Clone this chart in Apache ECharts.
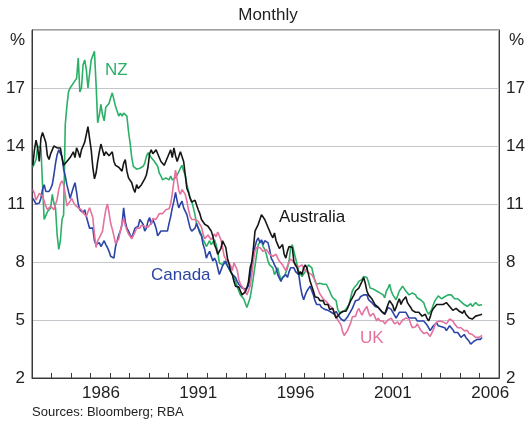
<!DOCTYPE html>
<html>
<head>
<meta charset="utf-8">
<title>Bond yields</title>
<script src="https://cdn.jsdelivr.net/npm/echarts@6/dist/echarts.min.js"></script>
<style>
    html, body { margin: 0; padding: 0; background: #fff; }
    #chart { width: 528px; height: 421px; }
</style>
</head>
<body>
<div id="chart"></div>
<script type="text/javascript">
    // monthly yields, Jan 1983 - Feb 2006
    var australia = [
        13.0, 13.8, 14.3, 13.9, 13.2, 14.4, 14.7, 14.6, 14.2, 13.5, 13.3, 13.6,
        13.8, 14.0, 14.0, 13.9, 14.0, 13.9, 13.4, 13.0, 13.0, 13.2, 13.3, 13.4,
        13.5, 13.7, 13.4, 13.9, 13.7, 13.4, 13.8, 14.0, 14.2, 14.6, 15.0, 14.4,
        13.8, 12.9, 12.3, 12.6, 13.2, 13.7, 14.1, 13.8, 13.5, 13.7, 13.6, 13.5,
        13.5, 13.7, 13.2, 13.0, 13.0, 12.9, 12.8, 12.7, 13.1, 13.3, 12.7, 12.35,
        12.3, 12.1, 11.8, 11.6, 12.0, 11.8, 11.9, 12.0, 12.0, 12.3, 12.5, 12.9,
        13.6, 13.8, 13.6, 13.7, 13.8, 13.6, 13.5, 13.2, 13.3, 13.0, 13.2, 13.3,
        13.6, 13.8, 13.4, 13.9, 13.5, 13.2, 13.3, 13.7, 13.6, 13.2, 12.5, 11.8,
        11.6, 11.3, 11.1, 11.0, 11.2, 11.1, 10.7, 10.5, 10.2, 10.1, 9.95, 10.0,
        9.85, 9.8, 9.6, 9.35, 8.9, 8.7, 8.4, 8.55, 8.7, 9.1, 9.0, 8.75,
        8.2, 7.9, 7.5, 7.35, 7.0, 6.75, 6.65, 6.7, 6.5, 6.3, 6.3, 6.45,
        6.65, 7.0, 7.7, 8.0, 8.7, 9.6, 9.7, 9.95, 10.2, 10.45, 10.4, 10.2,
        10.1, 9.8, 9.8, 9.4, 9.25, 9.5, 9.1, 8.9, 8.7, 8.65, 8.9, 8.4,
        8.2, 8.55, 8.8, 8.9, 8.75, 8.0, 7.9, 7.7, 7.35, 7.5, 7.35, 7.7,
        7.85, 7.7, 7.35, 7.0, 6.75, 6.5, 6.2, 6.3, 6.15, 6.0, 5.9, 6.0,
        5.8, 5.7, 5.8, 5.55, 5.6, 5.6, 5.3, 5.1, 5.2, 5.3, 5.35, 5.45,
        5.4, 5.45, 5.6, 5.8, 6.0, 6.15, 6.3, 6.5, 6.5, 6.65, 6.75, 7.0,
        7.2, 6.9, 6.5, 6.3, 6.25, 6.1, 6.0, 5.8, 5.9, 5.65, 5.55, 5.45,
        5.4, 5.3, 5.55, 5.8, 6.0, 5.9, 5.75, 5.45, 5.65, 5.9, 6.1, 5.8,
        6.0, 6.1, 6.2, 5.9, 5.8, 5.65, 5.5, 5.6, 5.4, 5.3, 5.4, 5.3,
        5.2, 5.1, 5.3, 5.1, 4.95, 5.15, 5.45, 5.6, 5.7, 5.8, 5.7, 5.8,
        5.9, 5.8, 5.7, 5.9, 5.8, 5.7, 5.6, 5.5, 5.5, 5.6, 5.5, 5.45,
        5.4, 5.35, 5.5, 5.3, 5.2, 5.1, 5.15, 5.05, 5.0, 5.2, 5.3, 5.25,
        5.35, 5.3
    ];
    var nz = [
        12.9, 12.8, 13.3, 14.0, 14.0, 13.9, 12.0, 10.2, 10.4, 10.6, 10.5, 10.8,
        11.5, 11.05, 10.8, 9.4, 8.65, 9.1, 10.2, 10.45, 15.1, 16.05, 16.8, 17.0,
        17.1, 17.25, 17.35, 17.5, 18.55, 16.8, 17.0, 18.2, 18.45, 17.95, 17.0, 17.0,
        18.45, 18.45, 18.9, 17.2, 15.2, 15.6, 16.15, 15.6, 15.3, 16.0, 16.05, 16.2,
        16.5, 16.75, 16.4, 16.05, 15.8, 15.55, 15.7, 15.55, 15.7, 15.6, 15.55, 14.75,
        14.15, 13.4, 12.95, 12.85, 12.8, 12.85, 12.85, 12.85, 12.95, 13.1, 13.45, 13.65,
        13.55, 13.4, 13.3, 13.2, 13.3, 12.95, 12.6, 12.45, 12.25, 12.25, 12.35, 12.25,
        12.25, 12.45, 12.25, 12.2, 12.35, 12.5, 12.6, 12.85, 13.0, 12.7, 12.5, 12.0,
        11.65, 11.3, 11.15, 10.8, 10.45, 9.95, 9.85, 9.6, 9.4, 9.15, 9.0, 8.8,
        8.9, 9.1, 8.9, 9.0, 9.15, 8.9, 8.55, 7.95, 8.05, 7.85, 8.05, 7.95,
        7.8, 7.7, 7.5, 7.45, 7.25, 7.0, 6.75, 6.5, 6.3, 6.25, 6.1, 6.0,
        5.65, 5.65, 6.15, 6.65, 7.2, 7.8, 8.4, 8.9, 9.0, 9.1, 8.8, 8.65,
        8.4, 8.05, 7.85, 7.95, 7.7, 7.35, 7.4, 7.7, 7.35, 7.1, 7.0, 7.25,
        7.45, 7.7, 8.05, 8.75, 8.9, 8.8, 8.2, 7.85, 7.5, 7.45, 7.25, 7.35,
        7.5, 7.7, 7.85, 7.95, 7.7, 7.35, 7.0, 6.85, 6.75, 6.9, 7.0, 6.85,
        6.9, 6.85, 6.75, 6.5, 6.3, 6.15, 6.05, 6.0, 5.55, 5.4, 5.3, 5.4,
        5.45, 5.55, 5.65, 5.8, 6.15, 6.5, 6.65, 6.75, 6.85, 7.0, 6.95, 7.1,
        7.25, 7.35, 7.2, 6.95, 6.65, 6.75, 6.6, 6.65, 6.5, 6.6, 6.4, 6.5,
        6.3, 6.15, 6.5, 6.65, 6.85, 6.5, 6.3, 6.25, 6.05, 6.15, 6.5, 6.6,
        6.75, 6.65, 6.5, 6.6, 6.3, 6.25, 6.4, 6.5, 6.3, 6.15, 6.25, 6.05,
        6.0, 5.9, 5.65, 5.45, 5.3, 5.4, 5.55, 5.8, 6.0, 6.05, 6.25, 6.15,
        6.1, 6.05, 6.2, 6.1, 6.3, 6.35, 6.3, 6.2, 6.1, 6.2, 6.1, 6.05,
        5.95, 5.85, 5.8, 5.85, 5.7, 5.75, 5.85, 5.7, 5.75, 5.9, 5.85, 5.75,
        5.85, 5.8
    ];
    var canada = [
        11.3, 11.25, 11.0, 10.9, 11.05, 11.3, 11.75, 12.0, 11.65, 11.65, 11.65, 11.8,
        12.0, 12.5, 13.1, 13.55, 13.8, 13.85, 13.45, 12.8, 12.45, 12.0, 11.65, 11.3,
        11.25, 11.85, 12.1, 11.6, 11.0, 10.7, 10.6, 10.55, 10.7, 10.35, 10.3, 9.75,
        9.7, 9.75, 9.1, 8.9, 9.0, 9.0, 8.8, 8.9, 9.1, 8.9, 8.75, 8.55,
        8.3, 8.2, 8.2, 8.8, 9.1, 9.4, 9.6, 9.95, 10.8, 10.1, 9.75, 9.6,
        9.4, 9.25, 9.3, 9.75, 9.65, 9.85, 10.2, 10.25, 9.95, 9.6, 9.75, 10.1,
        10.3, 9.95, 10.2, 10.0, 9.75, 9.35, 9.25, 9.6, 9.65, 9.6, 9.65, 9.6,
        10.0, 10.35, 10.8, 11.15, 11.6, 11.15, 10.8, 11.0, 11.15, 10.8, 10.7, 10.45,
        10.1, 9.75, 9.6, 9.7, 9.75, 10.0, 9.75, 9.5, 9.35, 8.9, 8.65, 8.2,
        8.4, 8.55, 8.3, 8.05, 8.2, 8.05, 7.7, 7.35, 7.45, 7.8, 7.85, 8.05,
        7.8, 7.7, 7.5, 7.35, 7.25, 7.2, 7.0, 6.85, 6.75, 6.65, 6.75, 6.6,
        6.5, 6.75, 7.25, 7.85, 8.4, 8.8, 9.1, 9.25, 9.0, 9.15, 8.9, 9.1,
        9.15, 9.0, 8.65, 8.2, 8.05, 7.85, 7.7, 7.35, 7.25, 7.0, 7.2, 7.25,
        7.35, 7.2, 7.5, 7.7, 7.8, 7.7, 7.5, 7.6, 7.35, 6.75, 6.3, 6.05,
        6.3, 6.5, 6.6, 6.75, 6.65, 6.3, 6.0, 5.8, 5.7, 5.8, 5.65, 5.55,
        5.55, 5.45, 5.5, 5.45, 5.4, 5.3, 5.3, 5.45, 5.3, 5.2, 5.05, 4.95,
        4.95, 5.0, 5.15, 5.3, 5.45, 5.6, 5.8, 6.0, 6.0, 6.05, 6.2, 6.25,
        6.3, 6.4, 6.3, 6.05, 6.0, 5.9, 5.8, 5.7, 5.8, 5.65, 5.55, 5.45,
        5.4, 5.3, 5.45, 5.65, 5.7, 5.55, 5.4, 5.3, 5.1, 5.2, 5.4, 5.45,
        5.4, 5.3, 5.4, 5.3, 5.1, 5.05, 5.1, 5.2, 5.1, 4.95, 5.05, 4.95,
        4.85, 4.95, 4.95, 4.75, 4.6, 4.45, 4.5, 4.7, 4.75, 4.85, 4.7, 4.6,
        4.65, 4.75, 4.6, 4.45, 4.5, 4.7, 4.6, 4.5, 4.35, 4.25, 4.35, 4.25,
        4.1, 4.15, 4.25, 4.1, 4.0, 3.9, 3.75, 3.8, 3.9, 3.8, 4.0, 4.05,
        4.0, 4.1
    ];
    var uk = [
        11.75, 11.55, 11.2, 11.3, 11.55, 11.65, 11.4, 11.15, 10.9, 10.7, 10.75, 10.9,
        10.85, 10.7, 10.75, 11.25, 11.75, 12.05, 12.2, 12.0, 11.5, 10.9, 10.95, 11.15,
        11.3, 11.1, 10.95, 10.85, 10.8, 10.7, 10.7, 10.55, 10.45, 10.35, 10.6, 10.8,
        10.9, 10.3, 9.45, 8.75, 9.1, 9.25, 9.35, 9.6, 10.2, 10.7, 11.0, 10.55,
        10.0, 9.7, 9.35, 8.95, 8.9, 9.2, 9.65, 9.95, 10.25, 9.9, 9.65, 9.45,
        9.35, 9.2, 9.25, 9.55, 9.75, 9.7, 9.75, 9.9, 9.8, 9.85, 9.85, 9.8,
        9.85, 10.0, 10.25, 10.2, 10.2, 10.3, 10.5, 10.45, 10.5, 10.6, 10.7, 10.6,
        10.75, 11.0, 11.55, 12.2, 12.75, 12.25, 11.7, 11.5, 11.75, 11.85, 11.5, 11.15,
        10.7, 10.35, 10.2, 10.3, 10.2, 10.1, 10.1, 9.95, 9.8, 9.45, 9.2, 9.1,
        9.4, 9.4, 9.15, 9.3, 9.45, 9.3, 9.55, 9.55, 9.15, 8.75, 8.3, 8.15,
        8.1, 7.95, 7.8, 7.55, 7.95, 7.9, 7.6, 7.1, 6.85, 6.75, 6.6, 6.45,
        6.3, 6.3, 6.75, 7.3, 8.05, 8.6, 8.75, 8.65, 8.75, 8.65, 8.55, 8.65,
        8.65, 8.55, 8.4, 8.5, 8.3, 8.2, 8.4, 8.2, 8.05, 7.95, 7.85, 7.7,
        7.55, 7.8, 8.0, 8.15, 8.05, 8.0, 7.8, 7.85, 7.75, 7.7, 7.85, 7.75,
        7.55, 7.6, 7.45, 7.5, 7.35, 7.2, 7.05, 6.8, 6.55, 6.35, 6.25, 6.1,
        6.0, 5.95, 5.85, 5.75, 5.65, 5.6, 5.35, 5.2, 5.0, 4.9, 4.75, 4.4,
        4.2, 4.15, 4.45, 4.55, 4.85, 5.15, 5.25, 5.2, 5.45, 5.6, 5.4, 5.25,
        5.45, 5.55, 5.7, 5.4, 5.2, 5.25, 5.35, 5.15, 4.95, 5.1, 4.95, 4.85,
        4.95, 4.8, 4.85, 5.0, 4.95, 5.1, 5.05, 4.8, 4.85, 4.9, 4.75, 4.75,
        5.0, 4.95, 5.1, 5.2, 5.05, 4.8, 4.6, 4.55, 4.65, 4.8, 4.7, 4.5,
        4.4, 4.3, 4.25, 4.35, 4.3, 4.15, 4.15, 4.5, 4.75, 4.9, 5.0, 4.95,
        4.85, 4.9, 4.85, 4.8, 4.9, 5.05, 5.1, 4.95, 4.8, 4.7, 4.6, 4.55,
        4.6, 4.55, 4.45, 4.5, 4.45, 4.3, 4.2, 4.25, 4.2, 4.1, 4.15, 4.1,
        4.1, 4.2
    ];

    var yTicks = [2, 5, 8, 11, 14, 17, 20];
    var yLabels = [2, 5, 8, 11, 14, 17];
    var yearLabels = [1986, 1991, 1996, 2001, 2006];
    var firstYear = 1983, lastYear = 2006;

    // one category per month, Jan 1983 - Dec 2006
    var months = [];
    for (var y = firstYear; y <= lastYear; y++) {
        for (var m = 1; m <= 12; m++) {
            months.push(y + '-' + (m < 10 ? '0' + m : m));
        }
    }

    var font = '"Liberation Sans", Arial, sans-serif';
    var axisColor = '#3a3a3a';
    var green = '#2bb067', blue = '#2b44a6', pink = '#e5719f', black = '#161616';

    function yAxis(pos) {
        return {
            type: 'value',
            position: pos,
            min: 2,
            max: 20,
            axisLine: { show: true, lineStyle: { color: axisColor, width: 1 } },
            axisTick: { show: false, customValues: yTicks },
            axisLabel: { customValues: yLabels, margin: 7, color: '#222', fontSize: 17, fontFamily: font },
            splitLine: { show: pos === 'left', lineStyle: { color: '#c2c6cb', width: 1 } }
        };
    }

    function line(name, data, color) {
        return {
            name: name,
            type: 'line',
            data: data,
            showSymbol: false,
            lineStyle: { color: color, width: 1.6 },
            itemStyle: { color: color }
        };
    }

    var myChart = echarts.init(document.getElementById('chart'));
    var option = {
        animation: false,
        backgroundColor: '#fff',
        grid: { left: 32, right: 23, top: 30, bottom: 43, show: true, borderColor: axisColor, borderWidth: 1 },
        xAxis: [
            {
                type: 'category',
                data: months,
                boundaryGap: true,
                axisLine: { lineStyle: { color: axisColor, width: 1 } },
                axisTick: { show: false },
                axisLabel: {
                    interval: function (i, v) {
                        return v.slice(5) === '07' && yearLabels.indexOf(+v.slice(0, 4)) >= 0;
                    },
                    formatter: function (v) { return v.slice(0, 4); },
                    margin: 7,
                    color: '#222',
                    fontSize: 17,
                    fontFamily: font
                },
                splitLine: { show: false }
            },
            {
                // year ticks only, on the same bottom edge
                type: 'value',
                position: 'bottom',
                min: firstYear,
                max: lastYear + 1,
                interval: 1,
                axisLine: { show: false },
                axisTick: { show: true, inside: true, length: 5, lineStyle: { color: axisColor } },
                axisLabel: { show: false },
                splitLine: { show: false }
            }
        ],
        yAxis: [yAxis('left'), yAxis('right')],
        series: [
            line('NZ', nz, green),
            line('Canada', canada, blue),
            line('UK', uk, pink),
            line('Australia', australia, black)
        ],
        graphic: [
            { type: 'text', x: 268, y: 15, style: { text: 'Monthly', font: '17px ' + font, fill: '#222', align: 'center', verticalAlign: 'middle' } },
            { type: 'text', x: 25, y: 40, style: { text: '%', font: '17px ' + font, fill: '#222', align: 'right', verticalAlign: 'middle' } },
            { type: 'text', x: 509, y: 40, style: { text: '%', font: '17px ' + font, fill: '#222', align: 'left', verticalAlign: 'middle' } },
            { type: 'text', x: 105, y: 70, style: { text: 'NZ', font: '17px ' + font, fill: green, align: 'left', verticalAlign: 'middle' } },
            { type: 'text', x: 279, y: 217, style: { text: 'Australia', font: '17px ' + font, fill: black, align: 'left', verticalAlign: 'middle' } },
            { type: 'text', x: 151, y: 275, style: { text: 'Canada', font: '17px ' + font, fill: blue, align: 'left', verticalAlign: 'middle' } },
            { type: 'text', x: 360, y: 338, style: { text: 'UK', font: '17px ' + font, fill: pink, align: 'left', verticalAlign: 'middle' } },
            { type: 'text', x: 32, y: 412, style: { text: 'Sources: Bloomberg; RBA', font: '13px ' + font, fill: '#222', align: 'left', verticalAlign: 'middle' } }
        ]
    };
    myChart.setOption(option);
</script>
</body>
</html>
